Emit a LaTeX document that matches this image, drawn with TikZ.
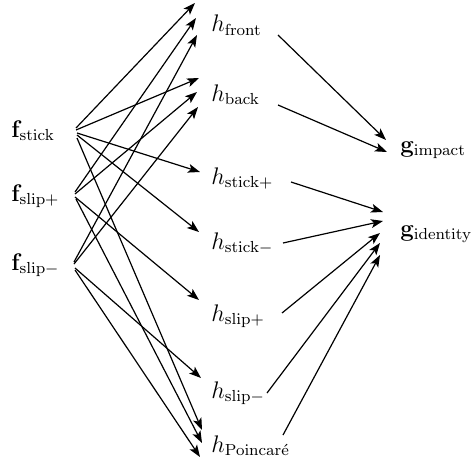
\documentclass[tikz,border=0pt]{standalone}
\usetikzlibrary{arrows.meta}
\begin{document}
\begin{tikzpicture}[x=0.5pt,y=-0.5pt,
  lbl/.style={inner sep=0pt,anchor=base west,font=\fontsize{12}{14}\selectfont},
  arr/.style={line width=0.6pt,-{Stealth[length=6pt,width=4.4pt,inset=1.4pt]}}]
\useasboundingbox (0,0) rectangle (475,465);
% left
\node[lbl] (fstick) at (11,137) {$\mathbf{f}_{\mathrm{stick}}$};
\node[lbl] (fslipp) at (11,201) {$\mathbf{f}_{\mathrm{slip}+}$};
\node[lbl] (fslipm) at (11,270) {$\mathbf{f}_{\mathrm{slip}-}$};
% middle
\node[lbl] (hfront) at (211,32) {$h_{\mathrm{front}}$};
\node[lbl] (hback) at (211,101) {$h_{\mathrm{back}}$};
\node[lbl] (hstickp) at (211,184) {$h_{\mathrm{stick}+}$};
\node[lbl] (hstickm) at (211,249) {$h_{\mathrm{stick}-}$};
\node[lbl] (hslipp) at (211,321) {$h_{\mathrm{slip}+}$};
\node[lbl] (hslipm) at (211,398) {$h_{\mathrm{slip}-}$};
\node[lbl] (hpoinc) at (211,452) {$h_{\mathrm{Poincar\acute{e}}}$};
% right
\node[lbl] (gimpact) at (400,152) {$\mathbf{g}_{\mathrm{impact}}$};
\node[lbl] (gidentity) at (400,236) {$\mathbf{g}_{\mathrm{identity}}$};
% f_stick
\draw[arr] ([shift={(65,-9)}]fstick.base west) -- ([shift={(-16,-29)}]hfront.base west);
\draw[arr] ([shift={(65,-7)}]fstick.base west) -- ([shift={(-12,-23)}]hback.base west);
\draw[arr] ([shift={(66,-4)}]fstick.base west) -- ([shift={(-11,-12)}]hstickp.base west);
\draw[arr] ([shift={(66,-2)}]fstick.base west) -- ([shift={(-12,-17)}]hstickm.base west);
\draw[arr] ([shift={(66,1)}]fstick.base west) -- ([shift={(-9,-22)}]hpoinc.base west);
% f_slip+
\draw[arr] ([shift={(64,-9)}]fslipp.base west) -- ([shift={(-15,-14)}]hfront.base west);
\draw[arr] ([shift={(64,-7)}]fslipp.base west) -- ([shift={(-14,-9)}]hback.base west);
\draw[arr] ([shift={(64,-4)}]fslipp.base west) -- ([shift={(-12,-21)}]hslipp.base west);
\draw[arr] ([shift={(65,-2)}]fslipp.base west) -- ([shift={(-9,-9)}]hpoinc.base west);
% f_slip-
\draw[arr] ([shift={(63,-8)}]fslipm.base west) -- ([shift={(-14,3)}]hfront.base west);
\draw[arr] ([shift={(63,-6)}]fslipm.base west) -- ([shift={(-13,6)}]hback.base west);
\draw[arr] ([shift={(64,-2)}]fslipm.base west) -- ([shift={(-10,-20)}]hslipm.base west);
\draw[arr] ([shift={(64,0)}]fslipm.base west) -- ([shift={(-11,5)}]hpoinc.base west);
% to g
\draw[arr] ([shift={(67,3)}]hfront.base west) -- ([shift={(-14,-12)}]gimpact.base west);
\draw[arr] ([shift={(67,4)}]hback.base west) -- ([shift={(-13,0)}]gimpact.base west);
\draw[arr] ([shift={(80,-2)}]hstickp.base west) -- ([shift={(-17,-24)}]gidentity.base west);
\draw[arr] ([shift={(72,-6)}]hstickm.base west) -- ([shift={(-17,-15)}]gidentity.base west);
\draw[arr] ([shift={(71,-8)}]hslipp.base west) -- ([shift={(-20,-3)}]gidentity.base west);
\draw[arr] ([shift={(56,-5)}]hslipm.base west) -- ([shift={(-20,7)}]gidentity.base west);
\draw[arr] ([shift={(72,-17)}]hpoinc.base west) -- ([shift={(-20,19)}]gidentity.base west);
\end{tikzpicture}
\end{document}
